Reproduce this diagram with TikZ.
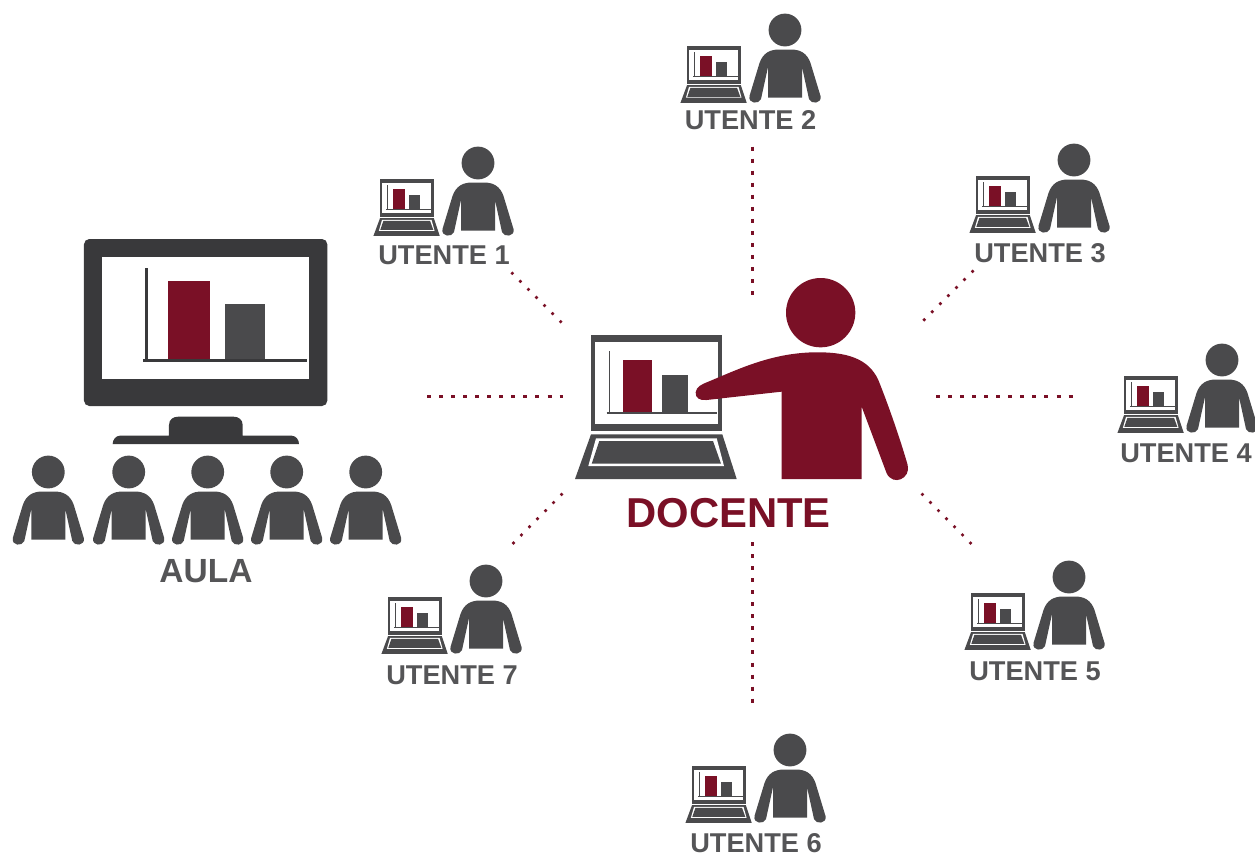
\documentclass[tikz,border=0pt]{standalone}
\usepackage{fontspec}
\setmainfont{Liberation Sans}
\definecolor{maroon}{HTML}{7A1026}
\definecolor{slate}{HTML}{4A4A4C}
\definecolor{darkslate}{HTML}{39393B}
\definecolor{labelgrey}{HTML}{555557}
\tikzset{
  dotline/.style={maroon,line width=3.6pt,dash pattern=on 4pt off 8.05pt},
  dotfine/.style={maroon,line width=2.6pt,dash pattern=on 2.6pt off 8.8pt},
  utlabel/.style={text=labelgrey,font=\fontsize{27.2}{29}\selectfont\bfseries,inner sep=0pt,anchor=center},
}
% person: origin at head centre
\newcommand{\personfig}[3]{%
 \begin{scope}[shift={(#1,#2)}]
  \fill[#3] (0,0) circle (16.4);
  \fill[#3] (-17,67.5) -- (-17,37) -- (-24,69) .. controls (-26,74.5) and (-37,74) .. (-35.5,66)
    -- (-25.5,33) .. controls (-22,23) and (-15,19.5) .. (-6,19.5) -- (6,19.5) .. controls (15,19.5) and (22,23) .. (25.5,33)
    -- (35.5,66) .. controls (37,74) and (26,74.5) .. (24,69) -- (17,37) -- (17,67.5) -- cycle;
 \end{scope}}
% laptop: origin at top-left of screen, full size = teacher's
% #3 x scale, #4 y scale, #5 screen border inset, #6 axis line width
\newcommand{\laptopfig}[6]{%
 \begin{scope}[shift={(#1,#2)},xscale=#3,yscale=#4]
  \fill[slate] (0,0) rectangle (131.3,96);
  \fill[white] (#5,#5+3) rectangle (131.3-#5,96-#5-3);
  \draw[slate,line width=#6] (18.4,16) -- (18.4,77.7) (15.7,77.7) -- (125.7,77.7);
  \fill[maroon] (32.3,24.7) rectangle (60.7,77);
  \fill[slate] (70.7,40) rectangle (97.3,77);
  \fill[slate] (0,99.3) -- (131.3,99.3) -- (145.7,144) -- (-16,144) -- cycle;
  \fill[white] (5,103.3) -- (125.7,103.3) -- (133,131) -- (-2.7,131) -- cycle;
  \fill[slate] (8.3,106) -- (122,106) -- (130,128.7) -- (0.7,128.7) -- cycle;
 \end{scope}}
\newcommand{\utentefig}[2]{%
 \personfig{#1}{#2}{slate}
 \laptopfig{#1-98}{#2+16}{0.41}{0.395}{6}{1.1pt}
}
\begin{document}
\begin{tikzpicture}[x=1pt,y=-1pt]
\useasboundingbox (0,0) rectangle (1255,857);
\fill[white] (0,0) rectangle (1255,857);
% classroom monitor
\begin{scope}[shift={(0,225)},scale=1/3]
  \fill[darkslate,rounded corners=16pt/3] (252,42) rectangle (982,543);
  \fill[white] (307,95) rectangle (928,463);
  \fill[darkslate] (434,130) rectangle (443,410);
  \fill[darkslate] (428,402) rectangle (920,411);
  \fill[maroon] (505,167) rectangle (630,402);
  \fill[slate] (676,236) rectangle (794,402);
  \fill[darkslate] (507,632) -- (507,600) .. controls (507,583) and (520,575) .. (535,575) -- (700,575) .. controls (715,575) and (728,583) .. (728,600) -- (728,632) -- (875,632) .. controls (888,632) and (897,645) .. (897,657) -- (338,657) .. controls (338,645) and (347,632) .. (360,632) -- cycle;
\end{scope}
\foreach \hx in {48.3,128.7,207.7,286.7,365.7} {\personfig{\hx}{472}{slate}}
\node[utlabel,font=\fontsize{33.5}{35}\selectfont\bfseries] (aula) at (206,571) {AULA};
% teacher
\laptopfig{591}{335}{1}{1}{4.3}{1.8pt}
\begin{scope}[shift={(560,265)},scale=1/3]
  \fill[maroon] (782,143) circle (104);
  \fill[maroon] (440,405) .. controls (420,408) and (405,398) .. (407,382) .. controls (409,365) and (425,358) .. (445,350)
    .. controls (530,315) and (630,265) .. (760,262) .. controls (860,260) and (925,280) .. (955,345)
    .. controls (985,420) and (1020,520) .. (1043,600) .. controls (1053,640) and (1000,665) .. (980,625)
    -- (905,425) -- (905,642) -- (665,642) -- (665,380) -- cycle;
\end{scope}
\node[utlabel,text=maroon,font=\fontsize{41.8}{44}\selectfont\bfseries] (docente) at (728.5,513) {DOCENTE};
% users
\utentefig{478}{163}
\node[utlabel] (u1) at (444,255) {UTENTE 1};
\utentefig{785}{30}
\node[utlabel] (u2) at (750.5,120) {UTENTE 2};
\utentefig{1074}{160}
\node[utlabel] (u3) at (1040,253) {UTENTE 3};
\utentefig{1222}{360}
\node[utlabel] (u4) at (1186,453) {UTENTE 4};
\utentefig{1069}{577}
\node[utlabel] (u5) at (1035,671) {UTENTE 5};
\utentefig{790}{750}
\node[utlabel] (u6) at (756,843.5) {UTENTE 6};
\utentefig{486}{581}
\node[utlabel] (u7) at (452,675) {UTENTE 7};
% connector ends
\coordinate (a1) at (427,396.5); \coordinate (a2) at (563,396.5);
\coordinate (b1) at (752.5,146.5); \coordinate (b2) at (752.5,296);
\coordinate (c1) at (936,396.5); \coordinate (c2) at (1073,396.5);
\coordinate (d1) at (752.5,542); \coordinate (d2) at (752.5,704);
\coordinate (e1) at (511.4,272.4); \coordinate (e2) at (562.5,323.5);
\coordinate (f1) at (973.5,270.5); \coordinate (f2) at (921.5,322.5);
\coordinate (g1) at (562.5,493.5); \coordinate (g2) at (510.5,546);
\coordinate (h1) at (921.5,493.5); \coordinate (h2) at (973.5,546);
\draw[dotline] (a1) -- (a2);
\draw[dotline] (b1) -- (b2);
\draw[dotline] (c1) -- (c2);
\draw[dotline] (d1) -- (d2);
\draw[dotfine] (e1) -- (e2);
\draw[dotfine] (f1) -- (f2);
\draw[dotfine] (g1) -- (g2);
\draw[dotfine] (h1) -- (h2);
\end{tikzpicture}
\end{document}
